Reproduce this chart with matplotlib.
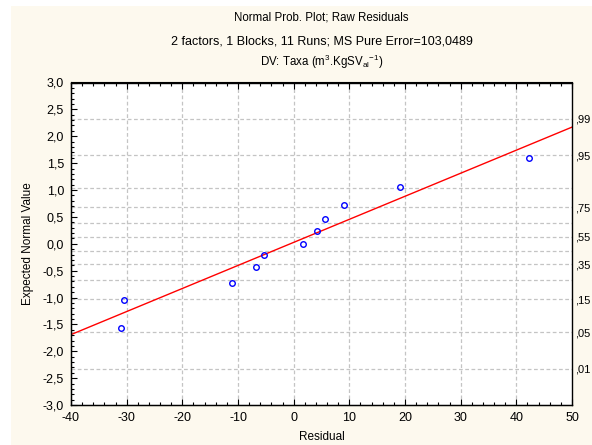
import matplotlib
matplotlib.use("Agg")
import matplotlib.pyplot as plt
from matplotlib.ticker import FuncFormatter, MultipleLocator, FixedLocator
from matplotlib.patches import Rectangle
from statistics import NormalDist

# ---- data ----
residuals = [-31.1, -30.4, -11.1, -6.7, -5.3, 1.7, 4.2, 5.7, 9.0, 19.1, 42.2]
expected_normal = [-1.57, -1.04, -0.73, -0.44, -0.21, 0.0, 0.23, 0.46, 0.73, 1.06, 1.59]
fit_x = [-40, 50]
fit_y = [-1.69, 2.17]
right_label_probs = [0.01, 0.05, 0.15, 0.35, 0.55, 0.75, 0.95, 0.99]
right_label_texts = [",01", ",05", ",15", ",35", ",55", ",75", ",95", ",99"]
grid_probs = [0.01, 0.05, 0.15, 0.25, 0.35, 0.45, 0.55, 0.65, 0.75, 0.85, 0.95, 0.99]
x_ticks = [-40, -30, -20, -10, 0, 10, 20, 30, 40, 50]
y_ticks = [-3.0, -2.5, -2.0, -1.5, -1.0, -0.5, 0.0, 0.5, 1.0, 1.5, 2.0, 2.5, 3.0]

plt.rcParams['font.family'] = ['Liberation Sans', 'DejaVu Sans']
plt.rcParams['font.size'] = 8
plt.rcParams['mathtext.fontset'] = 'custom'
plt.rcParams['mathtext.rm'] = 'Liberation Sans'
plt.rcParams['mathtext.it'] = 'Liberation Sans'

fig = plt.figure(figsize=(5.92, 4.45), dpi=100)
fig.patch.set_facecolor('white')
fig.patches.append(Rectangle((11/592, 0), 1, 1 - 6/445, transform=fig.transFigure,
                             facecolor='#fdf9ee', edgecolor='none', zorder=-10))

ax = fig.add_axes([71/592, 1 - 405/445, (572 - 71)/592, (405 - 82.5)/445])
ax.set_facecolor('white')
ax.set_xlim(-40, 50)
ax.set_ylim(-3, 3)

nd = NormalDist()
grid_z = [nd.inv_cdf(p) for p in grid_probs]
for z in grid_z:
    ax.axhline(z, color='#c4c4c4', lw=0.9, ls=(0, (3, 2)), zorder=0)
for xv in x_ticks[1:-1]:
    ax.axvline(xv, color='#c4c4c4', lw=0.9, ls=(0, (3, 2)), zorder=0)

ax.plot(fit_x, fit_y, color='#ff0000', lw=1.0, zorder=2)
ax.plot(residuals, expected_normal, 'o', mfc='none', mec='#0000ff', ms=4, mew=1.0, zorder=3)

fmt = FuncFormatter(lambda v, p: ("%.1f" % v).replace('.', ','))
ax.xaxis.set_major_locator(FixedLocator(x_ticks))
ax.xaxis.set_major_formatter(FuncFormatter(lambda v, p: "%d" % v))
ax.xaxis.set_minor_locator(MultipleLocator(2))
ax.yaxis.set_major_locator(FixedLocator(y_ticks))
ax.yaxis.set_major_formatter(fmt)
ax.yaxis.set_minor_locator(MultipleLocator(0.1))
ax.tick_params(which='both', direction='in', top=True, right=True, colors='black', labelsize=9)
ax.tick_params(which='major', length=4, width=0.8)
ax.tick_params(axis='x', which='major', pad=5)
ax.tick_params(axis='y', which='major', pad=5)
ax.tick_params(which='minor', length=2.5, width=0.8)
for s in ax.spines.values():
    s.set_linewidth(1.0)
    s.set_color('black')

ax2 = ax.twinx()
ax2.set_ylim(-3, 3)
ax2.set_yticks([nd.inv_cdf(p) for p in right_label_probs])
ax2.set_yticklabels(right_label_texts)
ax2.tick_params(axis='y', length=0, pad=2, labelsize=8)
ax2.spines['right'].set_visible(False)

ax.set_xlabel("Residual", fontsize=8.5, labelpad=5)
ax.set_ylabel("Expected Normal Value", fontsize=8.5, labelpad=6)

cx = (71 + 572) / 2 / 592
fig.text(cx, 1 - 18/445, "Normal Prob. Plot; Raw Residuals", ha='center', va='center', fontsize=8.3)
fig.text(cx, 1 - 41/445, "2 factors, 1 Blocks, 11 Runs; MS Pure Error=103,0489", ha='center', va='center', fontsize=9)
fig.text(cx, 1 - 62/445, r"DV: Taxa (m$^{3}$.KgSV$_{\mathrm{al}}$$^{\mathrm{-1}}$)", ha='center', va='center', fontsize=8.3)

fig.savefig("out.png", dpi=100, facecolor=fig.get_facecolor())
